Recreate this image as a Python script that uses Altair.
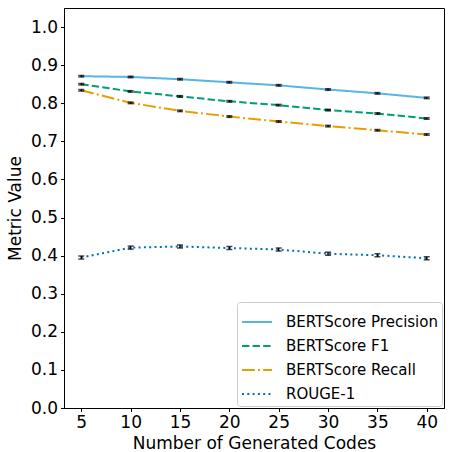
import altair as alt
import pandas as pd

codes = [5, 10, 15, 20, 25, 30, 35, 40]
series_names = ["BERTScore Precision", "BERTScore F1", "BERTScore Recall", "ROUGE-1"]
precision = [0.871, 0.869, 0.863, 0.855, 0.847, 0.836, 0.826, 0.814]
f1 = [0.850, 0.831, 0.818, 0.805, 0.795, 0.782, 0.773, 0.760]
recall = [0.834, 0.801, 0.780, 0.765, 0.752, 0.740, 0.729, 0.718]
rouge1 = [0.395, 0.421, 0.424, 0.420, 0.416, 0.405, 0.401, 0.393]
precision_err = [0.002, 0.002, 0.002, 0.002, 0.002, 0.002, 0.002, 0.002]
f1_err = [0.002, 0.002, 0.002, 0.002, 0.002, 0.002, 0.002, 0.002]
recall_err = [0.002, 0.002, 0.002, 0.002, 0.002, 0.002, 0.002, 0.002]
rouge1_err = [0.004, 0.004, 0.004, 0.004, 0.004, 0.004, 0.004, 0.004]
y_ticks = [0.0, 0.1, 0.2, 0.3, 0.4, 0.5, 0.6, 0.7, 0.8, 0.9, 1.0]

colors = ["#56B4E9", "#009E73", "#E69F00", "#0072B2"]
dashes = [[1, 0], [7.4, 3.2], [12.8, 3.2, 2, 3.2], [2, 3.3]]

rows = []
for name, vals, errs in zip(series_names, [precision, f1, recall, rouge1],
                            [precision_err, f1_err, recall_err, rouge1_err]):
    for c, v, e in zip(codes, vals, errs):
        rows.append({"codes": c, "value": v, "lo": v - e, "hi": v + e, "series": name})
df = pd.DataFrame(rows)

FONT = "DejaVu Sans"

x_scale = alt.Scale(domain=[3.25, 41.75], nice=False, zero=False)
x_axis = alt.Axis(values=codes, title="Number of Generated Codes", grid=False,
                  labelOverlap=False, tickCount=len(codes))
y_scale = alt.Scale(domain=[0, 1.05], nice=False)
y_axis = alt.Axis(values=y_ticks, format=".1f", tickCount=len(y_ticks),
                  title="Metric Value", grid=False, labelOverlap=False)

legend_kw = dict(title=None, orient="none", legendX=173, legendY=294,
                 symbolType="stroke", symbolSize=900,
                 symbolStrokeWidth=2, labelFontSize=15,
                 labelFont=FONT, labelColor="black",
                 rowPadding=-4, padding=4, labelOffset=13,
                 fillColor="rgba(255,255,255,0.8)",
                 strokeColor="#cccccc", cornerRadius=3,
                 labelLimit=300)

base = alt.Chart(df)

lines = base.mark_line(strokeWidth=2).encode(
    x=alt.X("codes:Q", scale=x_scale, axis=x_axis),
    y=alt.Y("value:Q", scale=y_scale, axis=y_axis),
    color=alt.Color("series:N",
                    scale=alt.Scale(domain=series_names, range=colors),
                    legend=alt.Legend(**legend_kw)),
    strokeDash=alt.StrokeDash("series:N",
                              scale=alt.Scale(domain=series_names, range=dashes),
                              legend=alt.Legend(**legend_kw)),
    order=alt.Order("codes:Q"),
)

err_rules = base.mark_rule(color="black", strokeWidth=1.5).encode(
    x=alt.X("codes:Q", scale=x_scale, axis=x_axis),
    y=alt.Y("lo:Q", scale=y_scale, axis=y_axis),
    y2="hi:Q",
)
cap_lo = base.mark_tick(color="black", orient="horizontal", size=6, thickness=1.5).encode(
    x=alt.X("codes:Q", scale=x_scale, axis=x_axis),
    y=alt.Y("lo:Q", scale=y_scale, axis=y_axis))
cap_hi = base.mark_tick(color="black", orient="horizontal", size=6, thickness=1.5).encode(
    x=alt.X("codes:Q", scale=x_scale, axis=x_axis),
    y=alt.Y("hi:Q", scale=y_scale, axis=y_axis))

chart = alt.layer(lines, err_rules, cap_lo, cap_hi).properties(
    width=380, height=400,
    autosize=alt.AutoSizeParams(type="none"),
    padding={"left": 64, "top": 8, "right": 7, "bottom": 44},
).configure_view(
    stroke="black", strokeWidth=1
).configure_axis(
    domainColor="black", tickColor="black", tickSize=3.5, tickWidth=1,
    labelColor="black", titleColor="black", labelFont=FONT, titleFont=FONT,
    labelFontSize=17, titleFontSize=17, titleFontWeight="normal", labelPadding=3,
    labelOverlap=False,
).configure_axisX(titlePadding=5).configure_axisY(titlePadding=6)

chart.save("out.html", embed_options={"renderer": "svg", "actions": False})
